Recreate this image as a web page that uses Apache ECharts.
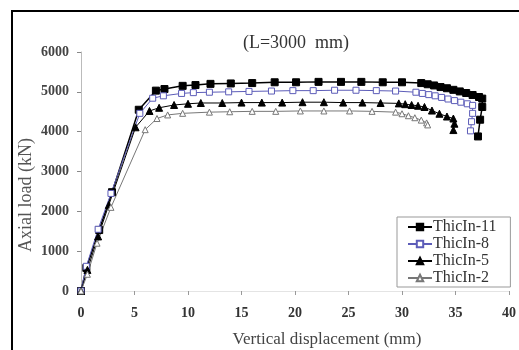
<!DOCTYPE html>
<html><head><meta charset="utf-8">
<script src="https://cdn.jsdelivr.net/npm/echarts@6/dist/echarts.min.js"></script>
<style>html,body{margin:0;padding:0;background:#fff}#c{width:519px;height:350px}</style>
</head><body><div id="c"></div>
<script>
const seriesNames = ['ThicIn-11', 'ThicIn-8', 'ThicIn-5', 'ThicIn-2'];
const thic11 = [[0,0],[0.5,580],[1.7,1530],[2.9,2480],[5.4,4550],[7.0,5030],[7.8,5070],[9.5,5150],[10.7,5170],[12.1,5200],[14.0,5210],[16.0,5220],[18.1,5240],[20.1,5240],[22.2,5250],[24.3,5250],[26.2,5250],[28.2,5240],[30.0,5240],[31.8,5220],[32.4,5190],[33.0,5160],[33.6,5120],[34.2,5090],[34.8,5050],[35.4,5010],[36.0,4970],[36.6,4920],[37.2,4870],[37.5,4830],[37.5,4620],[37.3,4300],[37.1,3880]];
const thic8 = [[0,0],[0.5,620],[1.6,1550],[2.8,2450],[5.5,4460],[6.7,4840],[7.7,4900],[9.4,4960],[10.5,4980],[12.0,4990],[13.8,5000],[15.7,5010],[17.8,5020],[19.8,5030],[21.7,5030],[23.7,5040],[25.7,5040],[27.6,5030],[29.4,5020],[31.3,4990],[31.9,4960],[32.5,4930],[33.1,4900],[33.7,4860],[34.3,4820],[34.9,4780],[35.5,4740],[36.1,4700],[36.6,4660],[36.6,4460],[36.5,4250],[36.4,4020]];
const thic5 = [[0,0],[0.6,530],[1.6,1370],[2.6,2160],[5.1,4110],[6.4,4520],[7.3,4600],[8.7,4670],[10.0,4700],[11.2,4720],[13.2,4720],[15.0,4730],[16.9,4730],[18.8,4730],[20.7,4740],[22.7,4740],[24.5,4730],[26.3,4730],[28.0,4720],[29.7,4710],[30.3,4690],[30.9,4670],[31.5,4650],[32.1,4620],[32.8,4530],[33.5,4450],[34.2,4380],[34.8,4330],[34.9,4200],[34.8,4040]];
const thic2 = [[0,0],[0.6,420],[1.5,1200],[2.8,2100],[6.0,4050],[7.1,4330],[8.1,4420],[9.5,4460],[12.0,4490],[13.9,4500],[16.0,4510],[18.2,4510],[20.5,4520],[22.7,4520],[25.1,4520],[27.2,4510],[29.4,4490],[30.0,4450],[30.6,4400],[31.2,4350],[31.8,4290],[32.3,4220],[32.4,4170]];
const xTicks = [0, 5, 10, 15, 20, 25, 30, 35, 40];
const yTicks = [0, 1000, 2000, 3000, 4000, 5000, 6000];
const titleText = '(L=3000  mm)';
const xName = 'Vertical displacement (mm)';
const yName = 'Axial load (kN)';

const serif = '"Liberation Serif", "DejaVu Serif", serif';
const chart = echarts.init(document.getElementById('c'));
const mk = (name, data, color, symbol, size, filled, lw) => ({
  name, type: 'line', data, symbol, symbolSize: size, showSymbol: true,
  lineStyle: { color, width: lw },
  itemStyle: { color: filled ? color : '#fff', borderColor: color, borderWidth: 1 },
  emphasis: { disabled: true }, animation: false
});
chart.setOption({
  backgroundColor: '#fff',
  animation: false,
  title: { text: titleText, left: 291, top: 29, textAlign: 'center',
    textStyle: { fontFamily: serif, fontSize: 18, fontWeight: 'normal', color: '#333' } },
  grid: { left: 81, right: 2, top: 52, bottom: 59, containLabel: false },
  xAxis: { type: 'value', min: xTicks[0], max: xTicks[xTicks.length-1], interval: 5,
    axisLine: { lineStyle: { color: '#e4e4e4', width: 1 } },
    axisTick: { show: true, length: 4, lineStyle: { color: '#999' } },
    splitLine: { show: false },
    axisLabel: { margin: 15, fontFamily: serif, fontSize: 14, fontWeight: 'bold', color: '#333',
      formatter: v => String(v) } },
  yAxis: { type: 'value', min: yTicks[0], max: yTicks[yTicks.length-1], interval: 1000,
    axisLine: { show: true, lineStyle: { color: '#bbb', width: 1 } },
    axisTick: { show: true, length: 4, lineStyle: { color: '#888' } },
    splitLine: { show: false },
    axisLabel: { margin: 12, fontFamily: serif, fontSize: 14, fontWeight: 'bold', color: '#444',
      formatter: v => String(v) } },
  legend: { orient: 'vertical', left: 397, top: 217, data: seriesNames,
    backgroundColor: '#fff', borderColor: '#999', borderWidth: 1, padding: [2, 14, 1, 10],
    itemGap: 1, itemWidth: 24, itemHeight: 8,
    textStyle: { fontFamily: serif, fontSize: 16, color: '#333', padding: [0, 0, 0, -4] } },
  graphic: [
    { type: 'rect', shape: { x: 12, y: 11, width: 520, height: 360 }, style: { fill: 'none', stroke: '#000', lineWidth: 2 }, silent: true },
    { type: 'text', x: 327, y: 340, style: { text: xName, fontFamily: serif, fontSize: 17, fill: '#444', textAlign: 'center', textVerticalAlign: 'middle' } },
    { type: 'text', x: 26, y: 195, rotation: Math.PI / 2, style: { text: yName, fontFamily: serif, fontSize: 18, fill: '#555', textAlign: 'center', textVerticalAlign: 'middle' } }
  ],
  series: [
    mk(seriesNames[0], thic11, '#000', 'rect', 7, true, 1.5),
    mk(seriesNames[1], thic8, '#5c5cb8', 'rect', 6, false, 1),
    mk(seriesNames[2], thic5, '#000', 'triangle', 7, true, 1),
    mk(seriesNames[3], thic2, '#777', 'triangle', 6, false, 1)
  ]
});
</script></body></html>
